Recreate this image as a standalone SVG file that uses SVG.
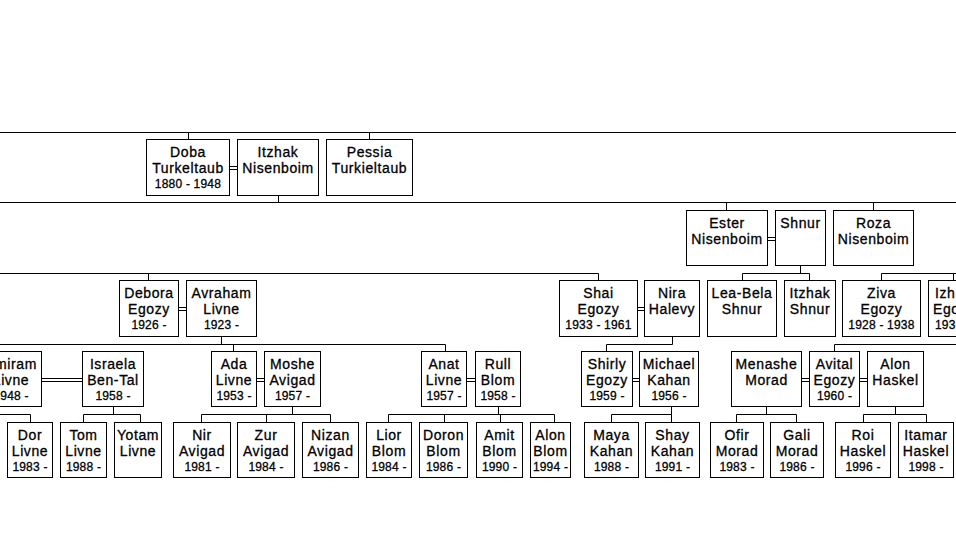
<svg xmlns="http://www.w3.org/2000/svg" width="956" height="557" viewBox="0 0 956 557">
<style>
rect{fill:#fff;stroke:#000;stroke-width:1}
.c{fill:none;stroke:#000;stroke-width:1}
text{font-family:"Liberation Sans",Arial,sans-serif;fill:#000;stroke:#000;stroke-width:0.3px;text-anchor:middle}
.n{font-size:14px;letter-spacing:0.6px}
.d{font-size:12px;letter-spacing:0.2px}
.s{text-anchor:start}
</style>
<rect x="0" y="0" width="956" height="557" style="stroke:none"/>
<g id="connectors">
<path class="c" d="M0 132.5H956M0 202.5H956M188.5 132.5V139.5M369.5 132.5V139.5M278.5 195.5V202.5"/>
<path class="c" d="M726.5 202.5V210.5M873.5 202.5V210.5M800.5 265.5V273.5"/>
<path class="c" d="M0 273.5H598.5M742.5 273.5H809.5M881.5 273.5H956M148.5 273.5V280.5M598.5 273.5V280.5M742.5 273.5V280.5M809.5 273.5V280.5M881.5 273.5V280.5M953.5 273.5V280.5"/>
<path class="c" d="M221.5 336.5V344.5M672.5 336.5V344.5M0 344.5H445.5M606.5 344.5H672.5M834.5 344.5H956M233.5 344.5V351.5M445.5 344.5V351.5M606.5 344.5V351.5M834.5 344.5V351.5"/>
<path class="c" d="M113.5 406.5V414.5M292.5 406.5V414.5M498.5 406.5V414.5M671.5 406.5V414.5M766.5 406.5V414.5M895.5 406.5V414.5"/>
<path class="c" d="M0 414.5H30.5M83.5 414.5H140.5M201.5 414.5H330.5M388.5 414.5H554.5M611.5 414.5H671.5M736.5 414.5H796.5M863.5 414.5H926.5"/>
<path class="c" d="M30.5 414.5V422.5M83.5 414.5V422.5M140.5 414.5V422.5M201.5 414.5V422.5M266.5 414.5V422.5M330.5 414.5V422.5M388.5 414.5V422.5M444.5 414.5V422.5M500.5 414.5V422.5M554.5 414.5V422.5M611.5 414.5V422.5M671.5 414.5V422.5M736.5 414.5V422.5M796.5 414.5V422.5M863.5 414.5V422.5M926.5 414.5V422.5"/>
<path class="c" d="M229.5 166.5H237.5M229.5 169.5H237.5M767.5 237.5H775.5M767.5 240.5H775.5M178.5 307.5H186.5M178.5 310.5H186.5M637.5 307.5H644.5M637.5 310.5H644.5M41.5 378.5H82.5M41.5 381.5H82.5M256.5 378.5H264.5M256.5 381.5H264.5M466.5 378.5H475.5M466.5 381.5H475.5M632.5 378.5H639.5M632.5 381.5H639.5M801.5 378.5H809.5M801.5 381.5H809.5M859.5 378.5H867.5M859.5 381.5H867.5"/>
</g>
<g id="doba"><rect x="146.5" y="139.5" width="83" height="56"/><text class="n"><tspan x="188" y="157">Doba</tspan><tspan x="188" y="173">Turkeltaub</tspan></text><text class="d" x="188" y="188">1880 - 1948</text></g>
<g id="itzhak-nisenboim"><rect x="237.5" y="139.5" width="81" height="56"/><text class="n"><tspan x="278" y="157">Itzhak</tspan><tspan x="278" y="173">Nisenboim</tspan></text></g>
<g id="pessia"><rect x="326.5" y="139.5" width="86" height="56"/><text class="n"><tspan x="369.5" y="157">Pessia</tspan><tspan x="369.5" y="173">Turkieltaub</tspan></text></g>
<g id="ester"><rect x="686.5" y="210.5" width="81" height="55"/><text class="n"><tspan x="727" y="228">Ester</tspan><tspan x="727" y="244">Nisenboim</tspan></text></g>
<g id="shnur"><rect x="775.5" y="210.5" width="50" height="55"/><text class="n" x="800.5" y="228">Shnur</text></g>
<g id="roza"><rect x="833.5" y="210.5" width="80" height="55"/><text class="n"><tspan x="873.5" y="228">Roza</tspan><tspan x="873.5" y="244">Nisenboim</tspan></text></g>
<g id="debora"><rect x="119.5" y="280.5" width="59" height="56"/><text class="n"><tspan x="149" y="298">Debora</tspan><tspan x="149" y="314">Egozy</tspan></text><text class="d" x="149" y="329">1926 -</text></g>
<g id="avraham"><rect x="186.5" y="280.5" width="70" height="56"/><text class="n"><tspan x="221.5" y="298">Avraham</tspan><tspan x="221.5" y="314">Livne</tspan></text><text class="d" x="221.5" y="329">1923 -</text></g>
<g id="shai"><rect x="559.5" y="280.5" width="78" height="56"/><text class="n"><tspan x="598.5" y="298">Shai</tspan><tspan x="598.5" y="314">Egozy</tspan></text><text class="d" x="598.5" y="329">1933 - 1961</text></g>
<g id="nira"><rect x="644.5" y="280.5" width="55" height="56"/><text class="n"><tspan x="672" y="298">Nira</tspan><tspan x="672" y="314">Halevy</tspan></text></g>
<g id="lea-bela"><rect x="707.5" y="280.5" width="69" height="56"/><text class="n"><tspan x="742" y="298">Lea-Bela</tspan><tspan x="742" y="314">Shnur</tspan></text></g>
<g id="itzhak-shnur"><rect x="784.5" y="280.5" width="51" height="56"/><text class="n"><tspan x="810" y="298">Itzhak</tspan><tspan x="810" y="314">Shnur</tspan></text></g>
<g id="ziva"><rect x="842.5" y="280.5" width="78" height="56"/><text class="n"><tspan x="881.5" y="298">Ziva</tspan><tspan x="881.5" y="314">Egozy</tspan></text><text class="d" x="881.5" y="329">1928 - 1938</text></g>
<g id="izh"><rect x="928.5" y="280.5" width="60" height="56"/><text class="n s"><tspan x="935" y="298">Izh</tspan><tspan x="933" y="314">Ego</tspan></text><text class="d s" x="935" y="329">193</text></g>
<g id="amiram"><rect x="-20.5" y="351.5" width="62" height="55"/><text class="n"><tspan x="11" y="369">Amiram</tspan><tspan x="11" y="385">Livne</tspan></text><text class="d" x="11" y="400">1948 -</text></g>
<g id="israela"><rect x="82.5" y="351.5" width="61" height="55"/><text class="n"><tspan x="113" y="369">Israela</tspan><tspan x="113" y="385">Ben-Tal</tspan></text><text class="d" x="113" y="400">1958 -</text></g>
<g id="ada"><rect x="211.5" y="351.5" width="45" height="55"/><text class="n"><tspan x="234" y="369">Ada</tspan><tspan x="234" y="385">Livne</tspan></text><text class="d" x="234" y="400">1953 -</text></g>
<g id="moshe"><rect x="264.5" y="351.5" width="56" height="55"/><text class="n"><tspan x="292.5" y="369">Moshe</tspan><tspan x="292.5" y="385">Avigad</tspan></text><text class="d" x="292.5" y="400">1957 -</text></g>
<g id="anat"><rect x="421.5" y="351.5" width="45" height="55"/><text class="n"><tspan x="444" y="369">Anat</tspan><tspan x="444" y="385">Livne</tspan></text><text class="d" x="444" y="400">1957 -</text></g>
<g id="rull"><rect x="475.5" y="351.5" width="45" height="55"/><text class="n"><tspan x="498" y="369">Rull</tspan><tspan x="498" y="385">Blom</tspan></text><text class="d" x="498" y="400">1958 -</text></g>
<g id="shirly"><rect x="581.5" y="351.5" width="51" height="55"/><text class="n"><tspan x="607" y="369">Shirly</tspan><tspan x="607" y="385">Egozy</tspan></text><text class="d" x="607" y="400">1959 -</text></g>
<g id="michael"><rect x="639.5" y="351.5" width="59" height="55"/><text class="n"><tspan x="669" y="369">Michael</tspan><tspan x="669" y="385">Kahan</tspan></text><text class="d" x="669" y="400">1956 -</text></g>
<g id="menashe"><rect x="731.5" y="351.5" width="70" height="55"/><text class="n"><tspan x="766.5" y="369">Menashe</tspan><tspan x="766.5" y="385">Morad</tspan></text></g>
<g id="avital"><rect x="809.5" y="351.5" width="50" height="55"/><text class="n"><tspan x="834.5" y="369">Avital</tspan><tspan x="834.5" y="385">Egozy</tspan></text><text class="d" x="834.5" y="400">1960 -</text></g>
<g id="alon-haskel"><rect x="867.5" y="351.5" width="56" height="55"/><text class="n"><tspan x="895.5" y="369">Alon</tspan><tspan x="895.5" y="385">Haskel</tspan></text></g>
<g id="dor"><rect x="7.5" y="422.5" width="45" height="55"/><text class="n"><tspan x="30" y="440">Dor</tspan><tspan x="30" y="456">Livne</tspan></text><text class="d" x="30" y="471">1983 -</text></g>
<g id="tom"><rect x="60.5" y="422.5" width="46" height="55"/><text class="n"><tspan x="83.5" y="440">Tom</tspan><tspan x="83.5" y="456">Livne</tspan></text><text class="d" x="83.5" y="471">1988 -</text></g>
<g id="yotam"><rect x="114.5" y="422.5" width="47" height="55"/><text class="n"><tspan x="138" y="440">Yotam</tspan><tspan x="138" y="456">Livne</tspan></text></g>
<g id="nir"><rect x="173.5" y="422.5" width="57" height="55"/><text class="n"><tspan x="202" y="440">Nir</tspan><tspan x="202" y="456">Avigad</tspan></text><text class="d" x="202" y="471">1981 -</text></g>
<g id="zur"><rect x="237.5" y="422.5" width="57" height="55"/><text class="n"><tspan x="266" y="440">Zur</tspan><tspan x="266" y="456">Avigad</tspan></text><text class="d" x="266" y="471">1984 -</text></g>
<g id="nizan"><rect x="302.5" y="422.5" width="56" height="55"/><text class="n"><tspan x="330.5" y="440">Nizan</tspan><tspan x="330.5" y="456">Avigad</tspan></text><text class="d" x="330.5" y="471">1986 -</text></g>
<g id="lior"><rect x="366.5" y="422.5" width="45" height="55"/><text class="n"><tspan x="389" y="440">Lior</tspan><tspan x="389" y="456">Blom</tspan></text><text class="d" x="389" y="471">1984 -</text></g>
<g id="doron"><rect x="419.5" y="422.5" width="48" height="55"/><text class="n"><tspan x="443.5" y="440">Doron</tspan><tspan x="443.5" y="456">Blom</tspan></text><text class="d" x="443.5" y="471">1986 -</text></g>
<g id="amit"><rect x="476.5" y="422.5" width="46" height="55"/><text class="n"><tspan x="499.5" y="440">Amit</tspan><tspan x="499.5" y="456">Blom</tspan></text><text class="d" x="499.5" y="471">1990 -</text></g>
<g id="alon-blom"><rect x="530.5" y="422.5" width="40" height="55"/><text class="n"><tspan x="550.5" y="440">Alon</tspan><tspan x="550.5" y="456">Blom</tspan></text><text class="d" x="550.5" y="471">1994 -</text></g>
<g id="maya"><rect x="584.5" y="422.5" width="54" height="55"/><text class="n"><tspan x="611.5" y="440">Maya</tspan><tspan x="611.5" y="456">Kahan</tspan></text><text class="d" x="611.5" y="471">1988 -</text></g>
<g id="shay"><rect x="645.5" y="422.5" width="54" height="55"/><text class="n"><tspan x="672.5" y="440">Shay</tspan><tspan x="672.5" y="456">Kahan</tspan></text><text class="d" x="672.5" y="471">1991 -</text></g>
<g id="ofir"><rect x="710.5" y="422.5" width="53" height="55"/><text class="n"><tspan x="737" y="440">Ofir</tspan><tspan x="737" y="456">Morad</tspan></text><text class="d" x="737" y="471">1983 -</text></g>
<g id="gali"><rect x="770.5" y="422.5" width="53" height="55"/><text class="n"><tspan x="797" y="440">Gali</tspan><tspan x="797" y="456">Morad</tspan></text><text class="d" x="797" y="471">1986 -</text></g>
<g id="roi"><rect x="835.5" y="422.5" width="55" height="55"/><text class="n"><tspan x="863" y="440">Roi</tspan><tspan x="863" y="456">Haskel</tspan></text><text class="d" x="863" y="471">1996 -</text></g>
<g id="itamar"><rect x="898.5" y="422.5" width="55" height="55"/><text class="n"><tspan x="926" y="440">Itamar</tspan><tspan x="926" y="456">Haskel</tspan></text><text class="d" x="926" y="471">1998 -</text></g>
</svg>
